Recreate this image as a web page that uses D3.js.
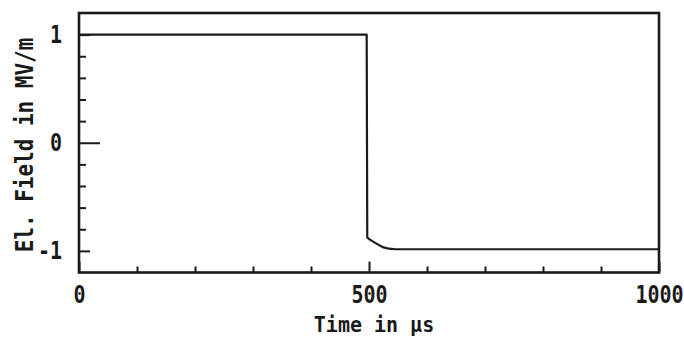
<!DOCTYPE html>
<html>
<head>
<meta charset="utf-8">
<script src="https://cdn.jsdelivr.net/npm/d3@7"></script>
<style>
  html, body { margin: 0; padding: 0; background: #fff; }
  svg { display: block; }
  .lbl { font-family: "DejaVu Sans Mono", monospace; font-weight: bold; fill: #1a1a1a;
         font-variant-numeric: slashed-zero; font-feature-settings: "zero" 1; }
</style>
</head>
<body>
<svg id="chart" width="684" height="338"></svg>
<script>
// Field step response: time in microseconds, field in MV/m
const time  = [0, 496, 497, 500, 505, 515, 525, 535, 545, 1000];
const field = [1, 1, -0.875, -0.89, -0.907, -0.94, -0.968, -0.98, -0.985, -0.985];

const xTicksMajor = [0, 500, 1000];
const xTicksMinor = [100, 200, 300, 400, 600, 700, 800, 900];
const yTicksMajor = [-1, 1];
const yTicksZero  = [0];
const yTicksMinor = [-0.8, -0.6, -0.4, -0.2, 0.2, 0.4, 0.6, 0.8];
const yTickLabels = ["-1", "0", "1"];
const xTickLabels = ["0", "500", "1000"];
const xTitle = "Time in \u00B5s";
const yTitle = "El. Field in MV/m";

const W = 684, H = 338;
const m = { left: 79, right: 25, top: 13, bottom: 65.5 };
const x = d3.scaleLinear().domain([0, 1000]).range([m.left, W - m.right]);
const y = d3.scaleLinear().domain([-1.2, 1.2]).range([H - m.bottom, m.top]);

const svg = d3.select("#chart");
const ink = "#1a1a1a";

const yLabelOf = d => yTickLabels[[-1, 0, 1].indexOf(d)];
const xLabelOf = d => xTickLabels[xTicksMajor.indexOf(d)];

function styleAxis(g) {
  g.select(".domain").remove();
  g.selectAll(".tick line").attr("stroke", ink).attr("stroke-width", 2);
}

// y minor ticks
svg.append("g").attr("transform", `translate(${m.left},0)`)
  .call(d3.axisLeft(y).tickValues(yTicksMinor).tickSize(-7).tickFormat(""))
  .call(styleAxis);
// y zero tick (long)
svg.append("g").attr("transform", `translate(${m.left},0)`)
  .call(d3.axisLeft(y).tickValues(yTicksZero).tickSize(-21).tickPadding(17).tickFormat(yLabelOf))
  .call(styleAxis);
// y major ticks
svg.append("g").attr("transform", `translate(${m.left},0)`)
  .call(d3.axisLeft(y).tickValues(yTicksMajor).tickSize(-11).tickPadding(17).tickFormat(yLabelOf))
  .call(styleAxis);

// x minor ticks
svg.append("g").attr("transform", `translate(0,${H - m.bottom})`)
  .call(d3.axisBottom(x).tickValues(xTicksMinor).tickSize(-6).tickFormat(""))
  .call(styleAxis);
// x major ticks
svg.append("g").attr("transform", `translate(0,${H - m.bottom})`)
  .call(d3.axisBottom(x).tickValues(xTicksMajor).tickSize(-11).tickPadding(11).tickFormat(xLabelOf))
  .call(styleAxis);

svg.selectAll(".tick text")
  .attr("class", "lbl")
  .attr("font-size", 20)
  .attr("font-family", null)
  .attr("fill", null)
  .attr("transform", "scale(1,1.22)");

// frame
svg.append("rect")
  .attr("x", x(0)).attr("y", y(1.2))
  .attr("width", x(1000) - x(0)).attr("height", y(-1.2) - y(1.2))
  .attr("fill", "none").attr("stroke", ink).attr("stroke-width", 2.6);

// curve
const pts = time.map((t, i) => [t, field[i]]);
svg.append("path")
  .datum(pts)
  .attr("fill", "none").attr("stroke", ink).attr("stroke-width", 2.2)
  .attr("stroke-linejoin", "round")
  .attr("d", d3.line().x(d => x(d[0])).y(d => y(d[1])));

// axis titles
svg.append("text").attr("class", "lbl")
  .attr("font-size", 20).attr("text-anchor", "middle")
  .attr("transform", `translate(${(x(0) + x(1000)) / 2 + 5},332) scale(1,1.1)`)
  .text(xTitle);

svg.append("text").attr("class", "lbl")
  .attr("font-size", 21).attr("text-anchor", "middle")
  .attr("transform", `translate(33,145) rotate(-90) scale(1,1.15)`)
  .text(yTitle);
</script>
</body>
</html>
